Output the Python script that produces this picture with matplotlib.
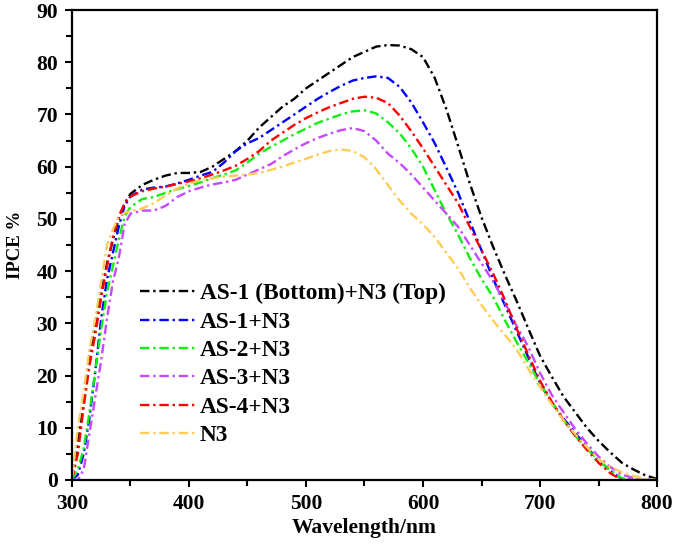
"""IPCE spectra of the AS-x + N3 co-sensitized cells."""

import matplotlib
matplotlib.use("Agg")
import matplotlib.pyplot as plt
from matplotlib.ticker import MultipleLocator

WAVELENGTH = [300, 305, 310, 315, 320, 325, 330, 335, 340, 345, 350,
              360, 370, 380, 390, 400, 410, 420, 430, 440, 450,
              460, 470, 480, 490, 500, 510, 520, 530, 540, 550,
              560, 570, 580, 590, 600, 610, 620, 630, 640, 650,
              660, 670, 680, 690, 700, 710, 720, 730, 740, 750,
              760, 770, 780, 790, 800]

AS1_BOTTOM_N3_TOP = [0, 7, 15, 24, 30, 36, 41.5, 46, 50, 53, 54.8,
                     56.5, 57.5, 58.3, 58.8, 58.8, 59, 60, 61.5, 63, 65,
                     67.5, 69.5, 71.5, 73, 75, 76.5, 78, 79.5, 81, 82,
                     83, 83.3, 83.2, 82.5, 81, 77, 71, 64, 56.8, 50.3,
                     44.6, 39.3, 34.3, 29, 23.8, 19.8, 16, 13, 10, 7.5,
                     5.3, 3.3, 2, 0.9, 0.2]
AS1_N3 = [0, 1, 5, 12, 21, 31, 38.5, 43.5, 48.5, 52.5, 54.3,
          55.6, 56, 56.2, 56.8, 57.5, 58.3, 59, 60.8, 63, 64.5,
          65.5, 67, 68.5, 70, 71.5, 73, 74.3, 75.5, 76.5, 77,
          77.3, 77, 75.3, 72.3, 68.5, 64.5, 59.8, 55, 49.5, 44,
          38.5, 33.5, 28.5, 23.5, 18.5, 14.8, 11.8, 9, 6.3, 3.8,
          1.8, 0.2, 0, 0, 0]
AS2_N3 = [0, 2, 6, 13, 21, 29, 36, 41, 46, 50.5, 52.3,
          53.8, 54.2, 55, 55.7, 56.3, 57, 57.8, 58.5, 59.3, 60.8,
          62.5, 63.8, 65, 66.2, 67.3, 68.4, 69.2, 70, 70.6, 70.8,
          70.2, 68.5, 66.4, 63.5, 60, 55.5, 51, 47, 42.5, 38.5,
          35, 30.6, 26.4, 22.5, 18.5, 15, 11.5, 8.5, 6, 3.8,
          1.8, 0.3, 0, 0, 0]
AS3_N3 = [0, 0, 2, 9, 16, 23, 31, 38, 42.5, 49, 51,
          51.6, 51.6, 52.5, 54.2, 55.3, 56, 56.6, 57, 57.5, 58.5,
          59.5, 60.5, 62, 63.3, 64.5, 65.5, 66.3, 67, 67.4, 66.8,
          65, 62.5, 60.7, 58.5, 56, 53.5, 51, 48.5, 45, 41.5,
          38, 34, 29.5, 25.5, 20.5, 16.3, 13, 9.8, 7, 4.5,
          2.5, 1, 0.4, 0, 0]
AS4_N3 = [0, 5, 14, 22, 28, 35, 41, 46.5, 50.5, 53, 54.3,
          55.3, 55.8, 56.2, 56.7, 57.2, 57.8, 58.5, 59.3, 60.2, 61.5,
          63, 65, 66.5, 68, 69.3, 70.4, 71.4, 72.2, 73, 73.4,
          73.2, 72.2, 69.8, 66.8, 63.5, 60, 56.5, 53, 48.5, 44,
          39.5, 34.5, 29, 24, 19, 15, 11.5, 8.5, 5.8, 3.3,
          1.3, 0, 0, 0, 0]
N3 = [0, 10, 17, 25, 31, 38, 45, 48, 50.4, 51.2, 51.5,
      52, 53, 54.5, 55.8, 56.8, 57.4, 57.8, 58.1, 58.3, 58.5,
      58.8, 59.4, 60, 60.8, 61.5, 62.3, 63, 63.3, 63, 61.8,
      59.5, 56.5, 53.5, 51, 49, 46.5, 43.5, 40.5, 36.8, 33.5,
      30.5, 27.8, 25, 21.3, 17.8, 14.5, 11.5, 8.8, 6.3, 4,
      2.5, 1.5, 0.8, 0.2, 0]

LABELS = ["AS-1 (Bottom)+N3 (Top)", "AS-1+N3", "AS-2+N3",
          "AS-3+N3", "AS-4+N3", "N3"]
COLORS = ["#000000", "#0000FF", "#11EE11", "#C848FF", "#FF0000", "#FFCC55"]

plt.rcParams["font.family"] = ["Liberation Serif", "DejaVu Serif"]
plt.rcParams["font.weight"] = "bold"

fig = plt.figure(figsize=(6.74, 5.49), dpi=100)
ax = fig.add_axes([0.1068, 0.1257, 0.868, 0.856])

series = [AS1_BOTTOM_N3_TOP, AS1_N3, AS2_N3, AS3_N3, AS4_N3, N3]
for values, label, color in zip(series, LABELS, COLORS):
    ax.plot(WAVELENGTH, values, color=color, linewidth=1.7,
            dashes=(4, 1.6, 1, 1.6), label=label)

ax.set_xlim(300, 800)
ax.set_ylim(0, 90)
ax.xaxis.set_major_locator(MultipleLocator(100))
ax.xaxis.set_minor_locator(MultipleLocator(50))
ax.yaxis.set_major_locator(MultipleLocator(10))
ax.yaxis.set_minor_locator(MultipleLocator(5))
ax.tick_params(which="both", direction="out", width=1.5, labelsize=15.5,
               top=False, right=False, pad=5)
ax.tick_params(which="major", length=5)
ax.tick_params(which="minor", length=4)
for spine in ax.spines.values():
    spine.set_linewidth(1.6)

ax.set_xlabel("Wavelength/nm", fontsize=15.5, fontweight="bold", labelpad=3)
ax.set_ylabel("IPCE %", fontsize=13.5, fontweight="bold", labelpad=9)

ax.legend(loc="upper left", bbox_to_anchor=(0.116, 0.419), frameon=False,
          fontsize=16.8, handlelength=2.36, handletextpad=0.2,
          labelspacing=0.3, borderaxespad=0, borderpad=0)

fig.savefig("out.png", dpi=100)
